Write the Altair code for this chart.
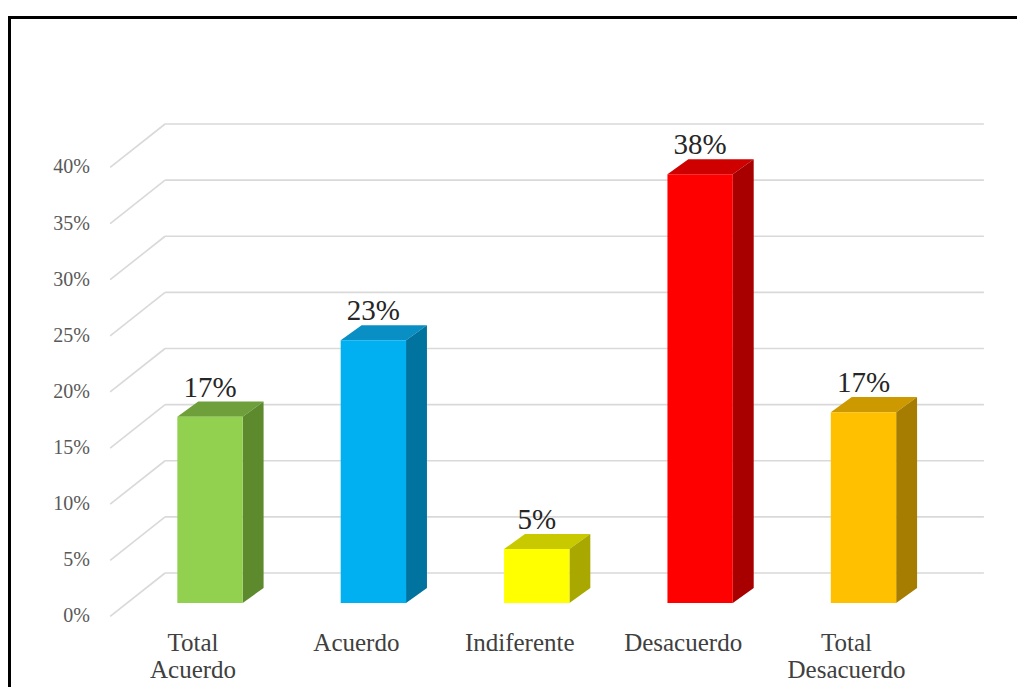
import altair as alt
import pandas as pd

# ---- data ----
categories = ["Total\nAcuerdo", "Acuerdo", "Indiferente", "Desacuerdo", "Total\nDesacuerdo"]
values = [0.166, 0.234, 0.048, 0.382, 0.170]
value_labels = ["17%", "23%", "5%", "38%", "17%"]
front_colors = ["#92D050", "#00B0F0", "#FFFF00", "#FF0000", "#FFC000"]
top_colors = ["#6E9F3A", "#0A8FC4", "#C9C900", "#CF0000", "#CC9A00"]
side_colors = ["#5E8A2E", "#00739E", "#A8A800", "#A80000", "#A67D00"]
ticks = [0.0, 0.05, 0.10, 0.15, 0.20, 0.25, 0.30, 0.35, 0.40]
tick_labels = ["0%", "5%", "10%", "15%", "20%", "25%", "30%", "35%", "40%"]

# ---- layout constants (3D look) ----
HW = 0.2          # half bar width (category units)
DX = 0.128        # bar depth, horizontal (category units)
DY = 0.0134       # bar depth, vertical (value units)
F = 0.0267        # drop of bars' front face below the back wall
GRID_X0, GRID_X1 = -0.275, 4.737
DIAG_X, DIAG_DY = -0.611, 0.0387
YLAB_X = -0.735
XLAB_SHIFT = -0.104
XLAB_Y = -0.0695

XS = alt.Scale(domain=[0, 4], range=[202, 855.5], nice=False, zero=False)
YS = alt.Scale(domain=[0, 0.4], range=[565, 116], nice=False, zero=False)


def X(f):
    return alt.X(f"{f}:Q", scale=XS, axis=None)


def X2(f):
    return alt.X2(f"{f}:Q")


def Y(f):
    return alt.Y(f"{f}:Q", scale=YS, axis=None)


def Y2(f):
    return alt.Y2(f"{f}:Q")


# grid (back wall + floor diagonals)
grid_rows = []
for t in ticks:
    grid_rows.append({"x": GRID_X0, "x2": GRID_X1, "y": t, "y2": t})
    grid_rows.append({"x": GRID_X0, "x2": DIAG_X, "y": t, "y2": t - DIAG_DY})
grid = alt.Chart(pd.DataFrame(grid_rows)).mark_rule(
    color="#D9D9D9", strokeWidth=1.6
).encode(x=X("x"), x2=X2("x2"), y=Y("y"), y2=Y2("y2"))

# bars
front_rows, top_rows, side_rows, lab_rows, xlab_rows = [], [], [], [], []
for i, (c, v) in enumerate(zip(categories, values)):
    front_rows.append({"cat": c, "x": i - HW, "x2": i + HW, "y": v - F, "y2": -F,
                       "col": front_colors[i]})
    top_rows.append({"cat": c, "y": v - F, "x": i - HW, "x2": i + HW, "col": top_colors[i]})
    top_rows.append({"cat": c, "y": v - F + DY, "x": i - HW + DX, "x2": i + HW + DX,
                     "col": top_colors[i]})
    side_rows.append({"cat": c, "x": i + HW, "y": v - F, "y2": -F, "col": side_colors[i]})
    side_rows.append({"cat": c, "x": i + HW + DX, "y": v - F + DY, "y2": -F + DY,
                      "col": side_colors[i]})
    lab_rows.append({"x": i, "y": v - F + 0.0178, "t": value_labels[i]})
    xlab_rows.append({"x": i + XLAB_SHIFT, "y": XLAB_Y, "t": c})

front = alt.Chart(pd.DataFrame(front_rows)).mark_rect().encode(
    x=X("x"), x2=X2("x2"), y=Y("y"), y2=Y2("y2"),
    color=alt.Color("col:N", scale=None),
)
top = alt.Chart(pd.DataFrame(top_rows)).mark_area(orient="horizontal").encode(
    y=Y("y"), x=X("x"), x2=X2("x2"), detail="cat:N",
    color=alt.Color("col:N", scale=None),
)
side = alt.Chart(pd.DataFrame(side_rows)).mark_area(orient="vertical").encode(
    x=X("x"), y=Y("y"), y2=Y2("y2"), detail="cat:N",
    color=alt.Color("col:N", scale=None),
)

value_text = alt.Chart(pd.DataFrame(lab_rows)).mark_text(
    font="Liberation Serif", fontSize=29, color="#262626", baseline="alphabetic", align="center"
).encode(x=X("x"), y=Y("y"), text="t:N")

xlab_text = alt.Chart(pd.DataFrame(xlab_rows)).mark_text(
    font="Liberation Serif", fontSize=25, color="#404040", baseline="alphabetic",
    align="center", lineBreak="\n", lineHeight=27
).encode(x=X("x"), y=Y("y"), text="t:N")

ylab_df = pd.DataFrame({"x": [YLAB_X] * len(ticks),
                        "y": [t - DIAG_DY for t in ticks],
                        "t": tick_labels})
ylab_text = alt.Chart(ylab_df).mark_text(
    font="Liberation Serif", fontSize=20, color="#595959", baseline="middle", align="right"
).encode(x=X("x"), y=Y("y"), text="t:N")

frame_top = alt.Chart(pd.DataFrame({"k": [0]})).mark_rule(color="#000000", strokeWidth=3).encode(
    x=alt.value(0), x2=alt.value(1009), y=alt.value(9.5)
)
frame_left = alt.Chart(pd.DataFrame({"k": [0]})).mark_rule(color="#000000", strokeWidth=3).encode(
    x=alt.value(1.5), y=alt.value(8), y2=alt.value(679)
)

chart = alt.layer(
    grid, top, side, front, value_text, xlab_text, ylab_text, frame_top, frame_left
).properties(
    width=1009, height=679, padding=0,
    autosize=alt.AutoSizeParams(type="none"),
    background="#FFFFFF",
).configure_view(stroke=None)

chart.save("out.html", embed_options={"renderer": "svg", "actions": False})
